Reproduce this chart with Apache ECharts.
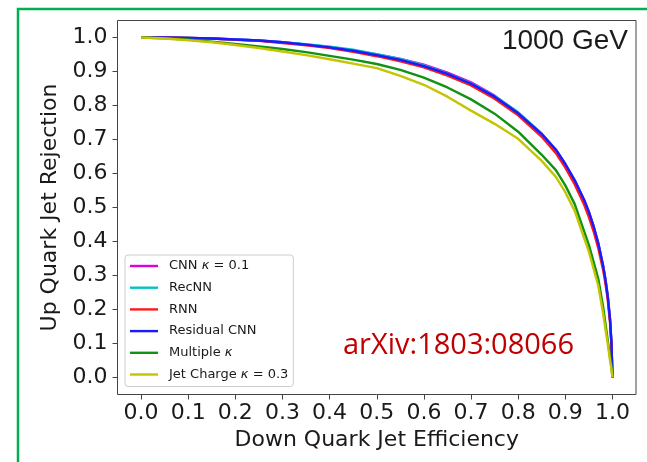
<!DOCTYPE html>
<html>
<head>
<meta charset="utf-8">
<script src="https://cdn.jsdelivr.net/npm/echarts@6/dist/echarts.min.js"></script>
<style>
  html, body { margin: 0; padding: 0; background: #fff; }
  #chart { width: 647px; height: 462px; }
</style>
</head>
<body>
<div id="chart"></div>
<script>
// Down-quark efficiency (signal) grid shared by every ROC curve
const efficiency = [0, 0.05, 0.1, 0.15, 0.2, 0.25, 0.3, 0.35, 0.4, 0.45, 0.5, 0.55, 0.6, 0.65, 0.7, 0.75, 0.8, 0.85, 0.88, 0.9, 0.92, 0.94, 0.95, 0.96, 0.97, 0.98, 0.985, 0.99, 0.995, 0.998, 1.0];

// Up-quark rejection for each tagger
const cnnRejection      = [1.0, 1.0, 0.999, 0.997, 0.994, 0.991, 0.986, 0.979, 0.972, 0.962, 0.950, 0.937, 0.920, 0.897, 0.868, 0.829, 0.779, 0.717, 0.670, 0.628, 0.580, 0.522, 0.487, 0.445, 0.395, 0.330, 0.290, 0.240, 0.170, 0.100, 0.0];
const recnnRejection    = [1.0, 1.0, 0.999, 0.997, 0.994, 0.991, 0.986, 0.980, 0.973, 0.964, 0.951, 0.937, 0.918, 0.894, 0.865, 0.828, 0.780, 0.717, 0.670, 0.627, 0.578, 0.520, 0.485, 0.443, 0.393, 0.328, 0.288, 0.238, 0.168, 0.098, 0.0];
const rnnRejection      = [1.0, 1.0, 0.999, 0.997, 0.993, 0.990, 0.984, 0.977, 0.969, 0.958, 0.945, 0.930, 0.912, 0.888, 0.859, 0.820, 0.771, 0.708, 0.660, 0.617, 0.568, 0.508, 0.472, 0.430, 0.380, 0.318, 0.278, 0.230, 0.160, 0.095, 0.0];
const residualRejection = [1.0, 1.0, 0.999, 0.997, 0.994, 0.991, 0.986, 0.979, 0.971, 0.961, 0.948, 0.934, 0.916, 0.893, 0.864, 0.826, 0.777, 0.716, 0.670, 0.628, 0.580, 0.522, 0.487, 0.445, 0.395, 0.330, 0.290, 0.240, 0.170, 0.100, 0.0];
const multiKappaRejection = [1.0, 0.998, 0.994, 0.988, 0.981, 0.974, 0.966, 0.957, 0.946, 0.935, 0.922, 0.905, 0.882, 0.853, 0.818, 0.776, 0.723, 0.655, 0.610, 0.565, 0.510, 0.430, 0.390, 0.340, 0.290, 0.210, 0.160, 0.110, 0.060, 0.030, 0.0];
const jetChargeRejection  = [1.0, 0.997, 0.992, 0.986, 0.978, 0.969, 0.959, 0.948, 0.936, 0.923, 0.910, 0.887, 0.861, 0.826, 0.785, 0.746, 0.702, 0.637, 0.590, 0.545, 0.490, 0.410, 0.370, 0.320, 0.270, 0.190, 0.145, 0.100, 0.050, 0.025, 0.0];

const seriesNames = ['CNN κ = 0.1', 'RecNN', 'RNN', 'Residual CNN', 'Multiple κ', 'Jet Charge κ = 0.3'];
const seriesValues = [cnnRejection, recnnRejection, rnnRejection, residualRejection, multiKappaRejection, jetChargeRejection];
const seriesColors = ['#dd00dd', '#00c4c4', '#ff1a1a', '#1a1aff', '#129212', '#c4c400'];

// Tick positions and labels on both axes
const tickValues = [0, 0.1, 0.2, 0.3, 0.4, 0.5, 0.6, 0.7, 0.8, 0.9, 1.0];
const tickLabels = ['0.0', '0.1', '0.2', '0.3', '0.4', '0.5', '0.6', '0.7', '0.8', '0.9', '1.0'];

const FONT = 'DejaVu Sans';
const INK = '#1a1a1a';

function tickText(v) {
  const i = tickValues.findIndex(t => Math.abs(t - v) < 1e-9);
  return i >= 0 ? tickLabels[i] : '';
}

const chart = echarts.init(document.getElementById('chart'), null, { renderer: 'canvas' });

const axisCommon = {
  type: 'value',
  min: -0.05,
  max: 1.05,
  splitLine: { show: false },
  axisLine: { show: false, onZero: false },
  axisTick: { show: true, inside: false, length: 5, lineStyle: { color: '#444', width: 1 }, customValues: tickValues },
  axisLabel: { customValues: tickValues, formatter: tickText, fontFamily: FONT, fontSize: 22, color: INK },
  nameLocation: 'middle',
  nameTextStyle: { fontFamily: FONT, fontSize: 22, color: INK }
};

chart.setOption({
  animation: false,
  backgroundColor: '#fff',
  grid: {
    left: 117.5, top: 20.5, right: 11, bottom: 67.5,
    show: true, borderColor: '#444', borderWidth: 1, backgroundColor: 'transparent'
  },
  xAxis: Object.assign({}, axisCommon, {
    name: 'Down Quark Jet Efficiency',
    nameGap: 34,
    axisLabel: Object.assign({}, axisCommon.axisLabel, { margin: 8 })
  }),
  yAxis: Object.assign({}, axisCommon, {
    name: 'Up Quark Jet Rejection',
    nameGap: 48,
    axisLabel: Object.assign({}, axisCommon.axisLabel, { margin: 10 })
  }),
  legend: {
    orient: 'vertical',
    left: 125, top: 255,
    icon: 'rect',
    itemWidth: 28, itemHeight: 2.4, itemGap: 7.7,
    padding: [4, 5, 5, 5],
    borderColor: '#cccccc', borderWidth: 1, borderRadius: 3,
    backgroundColor: 'rgba(255,255,255,0.85)',
    data: seriesNames,
    formatter: name => name.replace('κ', '{k|κ}'),
    textStyle: {
      fontFamily: FONT, fontSize: 13, color: INK, lineHeight: 14, padding: [0, 0, 0, 6],
      rich: { k: { fontFamily: FONT, fontSize: 13, fontStyle: 'italic', color: INK } }
    }
  },
  series: seriesNames.map((name, i) => ({
    name: name,
    type: 'line',
    symbol: 'none',
    showSymbol: false,
    color: seriesColors[i],
    lineStyle: { color: seriesColors[i], width: 2.4 },
    z: 2 + i,
    data: efficiency.map((e, j) => [e, seriesValues[i][j]])
  })),
  graphic: [
    {
      type: 'rect',
      shape: { x: 18, y: 9, width: 700, height: 500 },
      style: { fill: 'none', stroke: '#00b050', lineWidth: 2.5 },
      z: 100
    },
    {
      type: 'text',
      x: 628, y: 41,
      style: { text: '1000 GeV', fontFamily: 'Liberation Sans', fontSize: 28, fill: INK, textAlign: 'right', textVerticalAlign: 'middle' },
      z: 100
    },
    {
      type: 'text',
      x: 574, y: 346,
      style: { text: 'arXiv:1803:08066', fontFamily: 'Open Sans', fontSize: 29, fill: '#c00000', textAlign: 'right', textVerticalAlign: 'middle' },
      z: 100
    }
  ]
});
</script>
</body>
</html>
